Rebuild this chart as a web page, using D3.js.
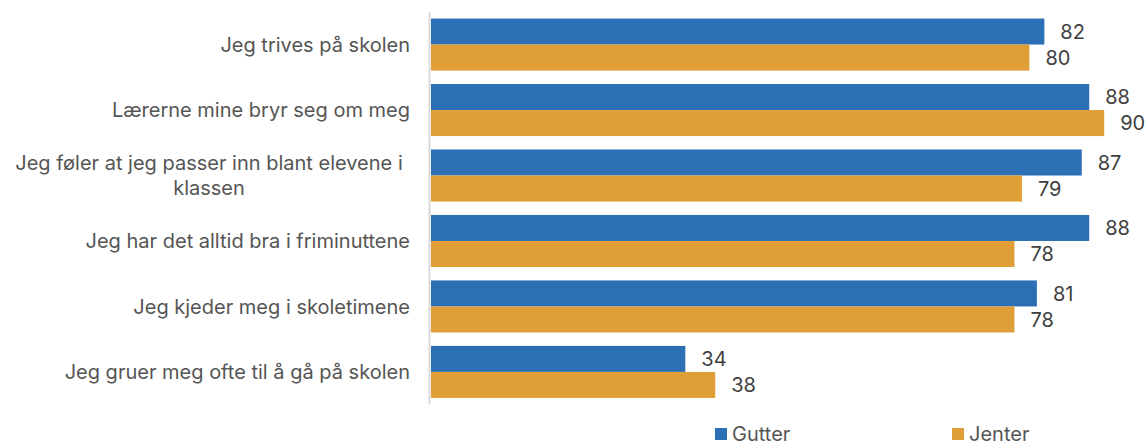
<!DOCTYPE html>
<html><head><meta charset="utf-8">
<script src="https://cdn.jsdelivr.net/npm/d3@7"></script>
<style>body{margin:0;background:#fff;} svg{display:block;font-family:Inter, "Open Sans", sans-serif;}</style>
</head><body>
<svg id="c" width="1148" height="443"></svg>
<script>
const categories = [
  ["Jeg trives på skolen"],
  ["Lærerne mine bryr seg om meg"],
  ["Jeg føler at jeg passer inn blant elevene i", "klassen"],
  ["Jeg har det alltid bra i friminuttene"],
  ["Jeg kjeder meg i skoletimene"],
  ["Jeg gruer meg ofte til å gå på skolen"]
];
const seriesNames = ["Gutter", "Jenter"];
const gutter = [82, 88, 87, 88, 81, 34];
const jenter = [80, 90, 79, 78, 78, 38];
const colors = ["#2D6FB5", "#E09F36"];

const svg = d3.select("#c");
const x = d3.scaleLinear().domain([0, 100]).range([431, 1179]);
const y = d3.scaleBand().domain(d3.range(categories.length)).range([12, 404.5]).paddingInner(0.205).paddingOuter(0.1);
const y2 = d3.scaleBand().domain([0, 1]).range([0, y.bandwidth()]);

const data = [gutter, jenter];
data.forEach((vals, s) => {
  svg.append("g").selectAll("rect").data(vals).join("rect")
    .attr("x", x(0)).attr("y", (d, i) => y(i) + y2(s))
    .attr("width", d => x(d) - x(0)).attr("height", y2.bandwidth())
    .attr("fill", colors[s]);
  svg.append("g").selectAll("text").data(vals).join("text")
    .attr("x", d => x(d) + 16).attr("y", (d, i) => y(i) + y2(s) + y2.bandwidth() / 2)
    .attr("dy", "0.36em").attr("font-size", 20).attr("fill", "#404040")
    .text(d => d);
});

// axis line
svg.append("line").attr("x1", 429.5).attr("x2", 429.5).attr("y1", 12).attr("y2", 404.5)
  .attr("stroke", "#d9d9d9").attr("stroke-width", 2);

// category labels
const cat = svg.append("g");
const catSize = 20;
categories.forEach((lines, i) => {
  const cy = y(i) + y.bandwidth() / 2;
  const lh = 25;
  const t = cat.append("text").attr("font-size", catSize).attr("fill", "#555").attr("text-anchor", "middle");
  if (lines.length === 1) {
    t.attr("text-anchor", "end").append("tspan").attr("x", 410).attr("y", cy).attr("dy", "0.36em").text(lines[0]);
  } else {
    const cx = 209;
    lines.forEach((l, k) => {
      t.append("tspan").attr("x", cx).attr("y", cy + (k - (lines.length - 1) / 2) * lh).attr("dy", "0.36em").text(l);
    });
  }
});

// legend
const legX = [715, 952];
seriesNames.forEach((n, s) => {
  svg.append("rect").attr("x", legX[s]).attr("y", 428).attr("width", 12).attr("height", 12).attr("fill", colors[s]);
  svg.append("text").attr("x", legX[s] + 17).attr("y", 441).attr("font-size", 20).attr("fill", "#555").text(n);
});
</script>
</body></html>
